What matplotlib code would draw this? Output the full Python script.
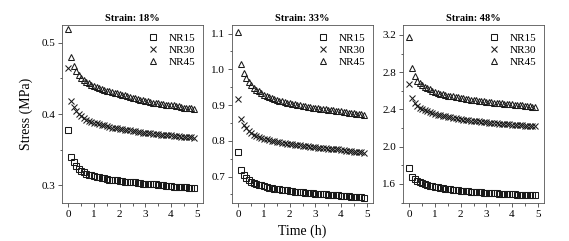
import matplotlib
matplotlib.use("Agg")
import matplotlib.pyplot as plt
from matplotlib.ticker import MultipleLocator
from matplotlib import font_manager

print(font_manager.findfont('Liberation Serif'))
plt.rcParams['font.family'] = ['Liberation Serif']
plt.rcParams['mathtext.fontset'] = 'stix'

time_h = [0.0, 0.1, 0.2, 0.3, 0.4, 0.5, 0.6, 0.7, 0.8, 0.9,
          1.0, 1.1, 1.2, 1.3, 1.4, 1.5, 1.6, 1.7, 1.8, 1.9,
          2.0, 2.1, 2.2, 2.3, 2.4, 2.5, 2.6, 2.7, 2.8, 2.9,
          3.0, 3.1, 3.2, 3.3, 3.4, 3.5, 3.6, 3.7, 3.8, 3.9,
          4.0, 4.1, 4.2, 4.3, 4.4, 4.5, 4.6, 4.7, 4.8, 4.9]

titles = ["Strain: 18%", "Strain: 33%", "Strain: 48%"]
series_names = ["NR15", "NR30", "NR45"]

nr15_18 = [0.378, 0.340, 0.332, 0.327, 0.323, 0.320, 0.318, 0.316, 0.315, 0.314,
           0.313, 0.312, 0.311, 0.310, 0.310, 0.309, 0.308, 0.308, 0.307, 0.307,
           0.306, 0.306, 0.305, 0.305, 0.304, 0.304, 0.304, 0.303, 0.303, 0.302,
           0.302, 0.302, 0.301, 0.301, 0.301, 0.300, 0.300, 0.300, 0.299, 0.299,
           0.299, 0.298, 0.298, 0.298, 0.297, 0.297, 0.297, 0.296, 0.296, 0.296]
nr30_18 = [0.465, 0.418, 0.410, 0.404, 0.400, 0.397, 0.394, 0.392, 0.390, 0.389,
           0.388, 0.387, 0.386, 0.385, 0.384, 0.383, 0.382, 0.381, 0.381, 0.380,
           0.379, 0.379, 0.378, 0.377, 0.377, 0.376, 0.376, 0.375, 0.375, 0.374,
           0.374, 0.373, 0.373, 0.372, 0.372, 0.372, 0.371, 0.371, 0.370, 0.370,
           0.370, 0.369, 0.369, 0.369, 0.368, 0.368, 0.367, 0.367, 0.367, 0.366]
nr45_18 = [0.520, 0.480, 0.467, 0.460, 0.455, 0.451, 0.448, 0.445, 0.443, 0.441,
           0.440, 0.438, 0.437, 0.435, 0.434, 0.433, 0.432, 0.431, 0.430, 0.429,
           0.428, 0.427, 0.426, 0.425, 0.424, 0.423, 0.422, 0.421, 0.420, 0.419,
           0.418, 0.418, 0.417, 0.416, 0.416, 0.415, 0.414, 0.414, 0.413, 0.413,
           0.412, 0.412, 0.411, 0.411, 0.410, 0.409, 0.409, 0.408, 0.408, 0.407]

nr15_33 = [0.768, 0.718, 0.705, 0.697, 0.691, 0.686, 0.683, 0.680, 0.677, 0.675,
           0.673, 0.671, 0.669, 0.668, 0.666, 0.665, 0.664, 0.663, 0.662, 0.661,
           0.660, 0.659, 0.658, 0.657, 0.657, 0.656, 0.655, 0.654, 0.654, 0.653,
           0.652, 0.652, 0.651, 0.650, 0.650, 0.649, 0.649, 0.648, 0.648, 0.647,
           0.646, 0.646, 0.645, 0.645, 0.644, 0.644, 0.643, 0.643, 0.642, 0.641]
nr30_33 = [0.918, 0.862, 0.845, 0.835, 0.827, 0.821, 0.817, 0.813, 0.810, 0.808,
           0.806, 0.804, 0.802, 0.800, 0.799, 0.797, 0.796, 0.795, 0.794, 0.792,
           0.791, 0.790, 0.789, 0.788, 0.787, 0.786, 0.785, 0.785, 0.784, 0.783,
           0.782, 0.781, 0.781, 0.780, 0.779, 0.778, 0.778, 0.777, 0.776, 0.776,
           0.774, 0.773, 0.772, 0.772, 0.771, 0.770, 0.769, 0.768, 0.768, 0.767]
nr45_33 = [1.105, 1.015, 0.990, 0.975, 0.964, 0.956, 0.949, 0.943, 0.938, 0.933,
           0.929, 0.925, 0.922, 0.919, 0.916, 0.914, 0.912, 0.910, 0.908, 0.906,
           0.905, 0.903, 0.902, 0.900, 0.899, 0.898, 0.896, 0.895, 0.894, 0.893,
           0.892, 0.891, 0.890, 0.889, 0.888, 0.887, 0.886, 0.885, 0.884, 0.883,
           0.882, 0.881, 0.880, 0.879, 0.878, 0.877, 0.876, 0.875, 0.874, 0.873]

nr15_48 = [1.770, 1.680, 1.650, 1.632, 1.618, 1.607, 1.598, 1.590, 1.583, 1.577,
           1.570, 1.564, 1.559, 1.554, 1.549, 1.545, 1.541, 1.537, 1.534, 1.531,
           1.528, 1.525, 1.522, 1.520, 1.517, 1.515, 1.513, 1.511, 1.509, 1.507,
           1.505, 1.503, 1.501, 1.500, 1.498, 1.496, 1.495, 1.493, 1.492, 1.490,
           1.489, 1.488, 1.486, 1.485, 1.484, 1.483, 1.481, 1.480, 1.479, 1.478]
nr30_48 = [2.670, 2.520, 2.470, 2.440, 2.420, 2.405, 2.390, 2.380, 2.370, 2.360,
           2.352, 2.345, 2.338, 2.332, 2.326, 2.320, 2.315, 2.310, 2.305, 2.300,
           2.296, 2.292, 2.288, 2.284, 2.280, 2.277, 2.274, 2.271, 2.268, 2.265,
           2.262, 2.259, 2.256, 2.254, 2.251, 2.249, 2.246, 2.244, 2.242, 2.240,
           2.237, 2.235, 2.233, 2.231, 2.229, 2.227, 2.225, 2.223, 2.221, 2.219]
nr45_48 = [3.180, 2.840, 2.760, 2.710, 2.680, 2.660, 2.640, 2.630, 2.615, 2.600,
           2.590, 2.580, 2.570, 2.565, 2.560, 2.550, 2.545, 2.540, 2.535, 2.530,
           2.525, 2.520, 2.515, 2.510, 2.505, 2.500, 2.497, 2.494, 2.490, 2.487,
           2.484, 2.480, 2.477, 2.474, 2.471, 2.468, 2.465, 2.462, 2.460, 2.457,
           2.455, 2.452, 2.450, 2.447, 2.444, 2.441, 2.438, 2.435, 2.432, 2.430]

panels = [
    [nr15_18, nr30_18, nr45_18],
    [nr15_33, nr30_33, nr45_33],
    [nr15_48, nr30_48, nr45_48],
]
ylims = [(0.275, 0.525), (0.626, 1.124), (1.396, 3.307)]
ymajor = [0.1, 0.1, 0.4]
yminor = [0.05, 0.05, 0.2]
markers = ['s', 'x', '^']

W, H = 569, 241
fig = plt.figure(figsize=(W / 100, H / 100), dpi=100)
lefts = [62, 232, 403]
aw, top, bottom = 141, 25, 203

for i in range(3):
    ax = fig.add_axes([lefts[i] / W, 1 - bottom / H, aw / W, (bottom - top) / H])
    for j, (vals, m) in enumerate(zip(panels[i], markers)):
        ax.plot(time_h, vals, linestyle='none', marker=m, markersize=4.5,
                markerfacecolor='none', markeredgecolor='#1a1a1a',
                markeredgewidth=0.75, label=series_names[j])
    ax.set_xlim(-0.25, 5.25)
    ax.set_ylim(*ylims[i])
    ax.xaxis.set_major_locator(MultipleLocator(1))
    ax.xaxis.set_minor_locator(MultipleLocator(0.5))
    ax.yaxis.set_major_locator(MultipleLocator(ymajor[i]))
    ax.yaxis.set_minor_locator(MultipleLocator(yminor[i]))
    ax.tick_params(which='both', direction='out', labelsize=8, width=0.6,
                   color='#444444', pad=2)
    ax.tick_params(which='major', length=3)
    ax.tick_params(which='minor', length=1.8)
    for s in ax.spines.values():
        s.set_linewidth(0.6)
        s.set_color('#555555')
    ax.set_title(titles[i], fontsize=7.5, fontweight='bold', pad=3)
    leg = ax.legend(loc='upper right', frameon=False, fontsize=8,
                    handletextpad=0.8, labelspacing=0.2, borderaxespad=0.3,
                    handlelength=1.2)
    if i == 0:
        ax.set_ylabel('Stress (MPa)', fontsize=10, labelpad=6)
    if i == 1:
        ax.set_xlabel('Time (h)', fontsize=10, labelpad=4)

fig.savefig('out.png', dpi=100)
